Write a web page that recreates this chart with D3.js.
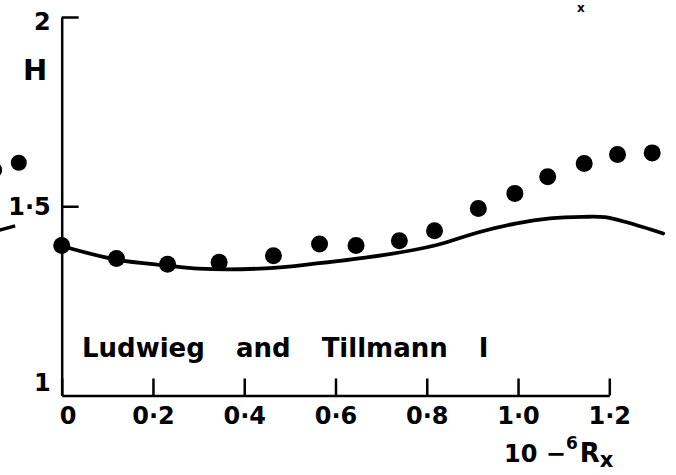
<!DOCTYPE html>
<html>
<head>
<meta charset="utf-8">
<script src="https://cdn.jsdelivr.net/npm/d3@7"></script>
<style>
    html, body { margin: 0; padding: 0; background: #fff; }
    svg { display: block; }
    .axis path, .axis line { stroke: #000; stroke-width: 2.5; }
    .axis text { font-family: 'DejaVu Sans', sans-serif; font-weight: bold; font-size: 24px; fill: #000; }
    .label { font-family: 'DejaVu Sans', sans-serif; font-weight: bold; fill: #000; }
</style>
</head>
<body>
<svg id="chart"></svg>
<script>
// Measured points (Ludwieg and Tillmann I): 10^-6 Rx against H.
const measuredRx = [0, 0.12, 0.232, 0.345, 0.464, 0.565, 0.645, 0.74, 0.817, 0.913, 0.993, 1.065, 1.145, 1.218, 1.294];
const measuredH = [1.396, 1.362, 1.347, 1.352, 1.369, 1.4, 1.396, 1.409, 1.435, 1.494, 1.534, 1.578, 1.613, 1.637, 1.641];

// Calculated curve.
const curveRx = [0, 0.12, 0.232, 0.3, 0.446, 0.559, 0.704, 0.82, 0.91, 0.997, 1.07, 1.143, 1.19, 1.24, 1.318];
const curveH = [1.395, 1.359, 1.343, 1.335, 1.336, 1.349, 1.371, 1.397, 1.43, 1.455, 1.468, 1.472, 1.471, 1.457, 1.428];

// Cut-off edge of the neighbouring panel on the left.
const edgeDotRx = [-0.094, -0.148];
const edgeDotH = [1.615, 1.596];
const edgeLineRx = [-0.136, -0.102];
const edgeLineH = [1.437, 1.448];

const xTicks = [0, 0.2, 0.4, 0.6, 0.8, 1.0, 1.2];
const xTickLabels = ['0', '0·2', '0·4', '0·6', '0·8', '1·0', '1·2'];
const yTicks = [1, 1.5, 2];
const yTickLabels = ['1', '1·5', '2'];

const width = 676;
const height = 475;

const svg = d3.select('#chart').attr('width', width).attr('height', height);

// X scale.
const x = d3.scaleLinear().domain([0, 1.2]).range([61.7, 609.3]);

// Y scale.
const y = d3.scaleLinear().domain([1, 2]).range([395.5, 17]);

// Add the x-axis.
const xAxis = svg.append('g')
    .attr('class', 'axis')
    .attr('transform', `translate(0, ${y(1)})`)
    .call(
        d3.axisBottom(x)
            .tickValues(xTicks)
            .tickSizeInner(-17)
            .tickSizeOuter(0)
            .tickPadding(11)
            .tickFormat((d, i) => xTickLabels[i])
    );
xAxis.selectAll('.tick text').attr('dx', (d, i) => (i === 0 ? 6 : 0));

// Add the y-axis.
const yLabelShift = { 1: -12.5, 1.5: 0.5, 2: 5 };
const yAxis = svg.append('g')
    .attr('class', 'axis')
    .attr('transform', `translate(${x(0)}, 0)`)
    .call(
        d3.axisLeft(y)
            .tickValues(yTicks)
            .tickSizeInner(-17)
            .tickSizeOuter(0)
            .tickPadding(11)
            .tickFormat((d, i) => yTickLabels[i])
    );
yAxis.selectAll('.tick text').attr('y', d => yLabelShift[d]);
yAxis.selectAll('.tick line').filter(d => d === 1).remove();

// Y-axis label.
svg.append('text')
    .attr('class', 'label')
    .attr('x', 23)
    .attr('y', 80)
    .attr('font-size', 29)
    .text('H');

// X-axis label: 10^-6 Rx.
const xLabel = svg.append('text')
    .attr('class', 'label')
    .attr('x', 504)
    .attr('y', 462)
    .attr('font-size', 24);
xLabel.append('tspan').text('10 −');
xLabel.append('tspan').attr('dy', -13).attr('font-size', 17).text('6');
xLabel.append('tspan').attr('dy', 13).attr('dx', 2).attr('font-size', 26).text('R');
xLabel.append('tspan').attr('dy', 5).attr('font-size', 21).text('x');

// Panel caption.
svg.append('text')
    .attr('class', 'label')
    .attr('x', 82)
    .attr('y', 357)
    .attr('font-size', 26)
    .attr('word-spacing', 22)
    .text('Ludwieg and Tillmann I');

// Small label at the top edge.
svg.append('text')
    .attr('class', 'label')
    .attr('x', 577)
    .attr('y', 12)
    .attr('font-size', 12)
    .text('x');

// Calculated curve.
const line = d3.line()
    .x(d => x(d[0]))
    .y(d => y(d[1]))
    .curve(d3.curveCatmullRom);

svg.append('path')
    .datum(d3.zip(curveRx, curveH))
    .attr('d', line)
    .attr('fill', 'none')
    .attr('stroke', '#000')
    .attr('stroke-width', 3.8)
    .attr('stroke-linecap', 'round');

// Measured points.
svg.append('g')
    .selectAll('circle')
    .data(d3.zip(measuredRx, measuredH))
    .enter()
    .append('circle')
    .attr('cx', d => x(d[0]))
    .attr('cy', d => y(d[1]))
    .attr('r', 8.5)
    .attr('fill', '#000');

// Neighbouring panel fragments.
svg.append('g')
    .selectAll('circle')
    .data(d3.zip(edgeDotRx, edgeDotH))
    .enter()
    .append('circle')
    .attr('cx', d => x(d[0]))
    .attr('cy', d => y(d[1]))
    .attr('r', 8)
    .attr('fill', '#000');

svg.append('path')
    .datum(d3.zip(edgeLineRx, edgeLineH))
    .attr('d', d3.line().x(d => x(d[0])).y(d => y(d[1])))
    .attr('fill', 'none')
    .attr('stroke', '#000')
    .attr('stroke-width', 3.5);
</script>
</body>
</html>
